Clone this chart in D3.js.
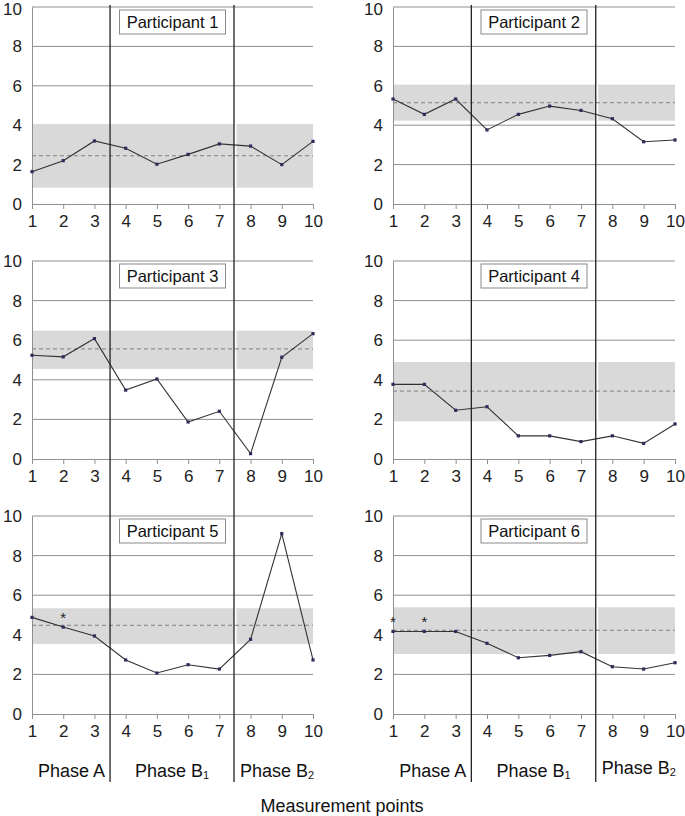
<!DOCTYPE html>
<html><head><meta charset="utf-8">
<script src="https://cdn.jsdelivr.net/npm/d3@7"></script>
<style>body{margin:0;background:#fff}svg{display:block;font-family:"Liberation Sans",Arial,sans-serif}</style>
</head><body>
<svg id="c" width="685" height="816"></svg>
<script>
const points = [1,2,3,4,5,6,7,8,9,10];
const yTicks = [0,2,4,6,8,10];
const participants = ["Participant 1","Participant 2","Participant 3","Participant 4","Participant 5","Participant 6"];
const p1 = [1.64,2.2,3.2,2.83,2.02,2.52,3.05,2.94,2.0,3.18];
const p2 = [5.33,4.55,5.33,3.76,4.55,4.97,4.75,4.33,3.16,3.25];
const p3 = [5.24,5.16,6.08,3.48,4.04,1.87,2.41,0.27,5.14,6.33];
const p4 = [3.77,3.77,2.46,2.64,1.17,1.17,0.88,1.17,0.79,1.77];
const p5 = [4.88,4.39,3.94,2.73,2.07,2.49,2.27,3.77,9.11,2.73];
const p6 = [4.17,4.17,4.17,3.57,2.84,2.96,3.15,2.39,2.27,2.59];
const series = [p1,p2,p3,p4,p5,p6];
const bandLow  = [0.83,4.23,4.55,1.9,3.54,3.03];
const bandHigh = [4.05,6.06,6.48,4.9,5.34,5.39];
const meanLine = [2.45,5.14,5.56,3.43,4.48,4.23];
const asterisks = [[],[],[],[],[2],[1,2]];
const phaseBounds = [3.5,7.47];
const phaseLabels = ["Phase A","Phase B","Phase B"];
const phaseSubs = ["","1","2"];
const xTitle = "Measurement points";

const FONT = "Liberation Sans, Arial, sans-serif";
const svg = d3.select("#c");
const cols = [[32,313],[393,675]];
const rows = [[204,7],[459,261],[714,516]];
const gridColor = "#8f8f8f";

series.forEach((vals,i)=>{
  const c = cols[i%2], r = rows[Math.floor(i/2)];
  const x = d3.scaleLinear().domain([1,10]).range(c);
  const y = d3.scaleLinear().domain([0,10]).range(r);
  const g = svg.append("g");
  // gridlines
  g.selectAll(".grid").data(yTicks.slice(1)).join("line")
    .attr("x1",x(1)).attr("x2",x(10)).attr("y1",d=>y(d)).attr("y2",d=>y(d))
    .attr("stroke",gridColor).attr("stroke-width",1);
  // band (drawn over gridlines)
  g.append("rect").attr("x",x(1)).attr("width",x(10)-x(1))
    .attr("y",y(bandHigh[i])).attr("height",y(bandLow[i])-y(bandHigh[i]))
    .attr("fill","#d9d9d9");
  // thin white gap near second phase boundary
  g.append("rect").attr("x",x(phaseBounds[1])).attr("width",2.5)
    .attr("y",y(bandHigh[i])).attr("height",y(bandLow[i])-y(bandHigh[i]))
    .attr("fill","#fff");
  // y axis
  const ya = g.append("g").attr("transform",`translate(${x(1)},0)`)
    .call(d3.axisLeft(y).tickValues(yTicks).tickSize(0).tickPadding(10));
  ya.select(".domain").attr("stroke",gridColor);
  ya.selectAll("text").attr("font-size",17).attr("fill","#222").attr("font-family",FONT)
    .attr("transform",d=>(i<2&&d===10)?"translate(0,2)":null);
  // x axis
  const xa = g.append("g").attr("transform",`translate(0,${y(0)})`)
    .call(d3.axisBottom(x).tickValues(points).tickSize(5).tickPadding(6).tickSizeOuter(0));
  xa.select(".domain").attr("stroke",gridColor);
  xa.selectAll("line").attr("stroke",gridColor);
  xa.selectAll("text").attr("font-size",17).attr("fill","#222").attr("font-family",FONT);
  // mean dashed line
  g.append("line").attr("x1",x(1)).attr("x2",x(10))
    .attr("y1",y(meanLine[i])).attr("y2",y(meanLine[i]))
    .attr("stroke","#808080").attr("stroke-width",1).attr("stroke-dasharray","4,3");
  // data line
  g.append("path").datum(vals)
    .attr("d",d3.line().x((d,k)=>x(points[k])).y(d=>y(d)))
    .attr("fill","none").attr("stroke","#333").attr("stroke-width",1.1);
  g.selectAll(".pt").data(vals).join("rect")
    .attr("x",(d,k)=>x(points[k])-1.6).attr("y",d=>y(d)-1.6)
    .attr("width",3.2).attr("height",3.2).attr("fill","#35285a");
  // asterisks
  asterisks[i].forEach(p=>{
    g.append("text").attr("x",x(p)).attr("y",y(vals[p-1])-4)
      .attr("text-anchor","middle").attr("font-size",15).attr("fill","#222").text("*");
  });
  // label box
  const lb = g.append("g");
  const bw = 106, bh = 24, cx = x(5.5);
  lb.append("rect").attr("x",cx-bw/2).attr("y",y(10)+3).attr("width",bw).attr("height",bh)
    .attr("fill","#fff").attr("stroke","#8a8a8a").attr("stroke-width",1);
  lb.append("text").attr("x",cx).attr("y",y(10)+3+bh/2+6).attr("text-anchor","middle")
    .attr("font-size",16.5).attr("fill","#111").text(participants[i]);
});

// phase lines and labels per column
cols.forEach((c,ci)=>{
  const x = d3.scaleLinear().domain([1,10]).range(c);
  svg.selectAll(null).data(phaseBounds).join("line")
    .attr("x1",d=>x(d)).attr("x2",d=>x(d)).attr("y1",5).attr("y2",782)
    .attr("stroke","#222").attr("stroke-width",1.3);
  const pos = [
    {x:x(phaseBounds[0])-5, a:"end", y:777},
    {x:(x(phaseBounds[0])+x(phaseBounds[1]))/2, a:"middle", y:777},
    {x:x(phaseBounds[1])+6, a:"start", y:ci===1?774:777}
  ];
  phaseLabels.forEach((t,k)=>{
    const tx = svg.append("text").attr("x",pos[k].x).attr("y",pos[k].y)
      .attr("text-anchor",pos[k].a).attr("font-size",18).attr("fill","#111");
    tx.append("tspan").text(t);
    if(phaseSubs[k]) tx.append("tspan").attr("font-size",11).attr("dy",2).text(phaseSubs[k]);
  });
});

svg.append("text").attr("x",342).attr("y",812).attr("text-anchor","middle")
  .attr("font-size",18).attr("fill","#111").text(xTitle);
</script>
</body></html>
